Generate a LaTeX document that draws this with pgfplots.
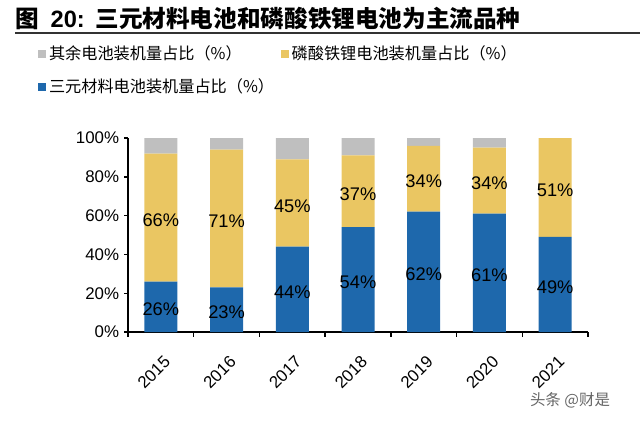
\documentclass[border=0pt]{standalone}
\usepackage{pgfplots}
\pgfplotsset{compat=1.18}
\usepackage{fontspec}
\setmainfont{Liberation Sans}
\newfontfamily\cjk{Noto Sans CJK SC}

\definecolor{cblue}{RGB}{30,104,172}
\definecolor{cyellow}{RGB}{234,198,98}
\definecolor{cgray}{RGB}{191,191,191}

\pgfplotsset{
  sqlegend/.style={legend image code/.code={\fill[##1] (0cm,-0.1cm) rectangle (0.2cm,0.1cm);}},
  % value labels inside their own segment
  midlabel/.style={
    point meta=explicit symbolic,
    nodes near coords={\pgfplotspointmeta\%},
    every node near coord/.style={anchor=center, text=black, yshift=-2pt,
      font=\fontsize{13}{15}\selectfont}},
}

\begin{document}
\begin{tikzpicture}
% page frame: 16cm x 10.5cm
\path[use as bounding box] (0,0) rectangle (16,10.5);

% title and rule
\node[anchor=base west, inner sep=0pt, font=\cjk\bfseries\fontsize{16.8}{20}\selectfont]
  at (0.375,9.8) {图\hspace{0.5em}{\fontspec{Liberation Sans}\bfseries 20:}\hspace{0.45em}三元材料电池和磷酸铁锂电池为主流品种};
\draw[line width=0.8pt, black!80] (0.375,9.675) -- (16,9.675);

\begin{axis}[
  at={(3.2cm,2.2cm)}, anchor=south west,
  scale only axis, width=11.5cm, height=4.85cm,
  clip=false,
  ybar stacked, bar width=0.825cm,
  xmin=-0.5, xmax=6.5, ymin=0, ymax=100,
  xtick={0,...,6},
  xticklabels={2015,2016,2017,2018,2019,2020,2021},
  minor xtick={-0.5,0.5,...,6.5},
  ytick={0,20,...,100},
  yticklabel={\pgfmathprintnumber{\tick}\%},
  /pgf/number format/assume math mode=true,
  axis lines*=left,
  axis line style={line width=1pt, black},
  tick align=outside,
  major tick length=0.1cm, minor tick length=0.12cm,
  major x tick style={draw=none},
  minor x tick style={black, line width=1pt},
  ytick style={black, line width=1pt},
  xticklabel style={rotate=45, anchor=north east, font=\fontsize{12}{14}\selectfont, xshift=-5pt, yshift=-7pt},
  yticklabel style={font=\fontsize{12}{14}\selectfont},
  legend style={draw=none, fill=none,
    at={(axis description cs:-0.205,1.505)}, anchor=north west,
    font=\cjk\fontsize{11.5}{14}\selectfont,
    /tikz/every even column/.append style={column sep=0.1cm},
    /tikz/row sep=0.28cm,
  },
  legend columns=2,
  reverse legend,
  legend cell align=left,
]
% ternary lithium share (bottom)
\addplot[fill=cblue, draw=none, sqlegend, midlabel]
  coordinates {(0,26)[26] (1,23)[23] (2,44)[44] (3,54)[54] (4,62)[62] (5,61)[61] (6,49)[49]};
% LFP share (middle)
\addplot[fill=cyellow, draw=none, sqlegend, midlabel]
  coordinates {(0,66)[66] (1,71)[71] (2,45)[45] (3,37)[37] (4,34)[34] (5,34)[34] (6,51)[51]};
% other chemistries (top)
\addplot[fill=cgray, draw=none, sqlegend]
  coordinates {(0,8) (1,6) (2,11) (3,9) (4,4) (5,5) (6,0)};
\legend{三元材料电池装机量占比（\%）, 磷酸铁锂电池装机量占比（\%）, 其余电池装机量占比（\%）}
\end{axis}

% watermark
\node[font=\cjk\fontsize{11}{13}\selectfont, text=black!60] at (14.25,0.5) {头条 @财是};
\end{tikzpicture}
\end{document}
